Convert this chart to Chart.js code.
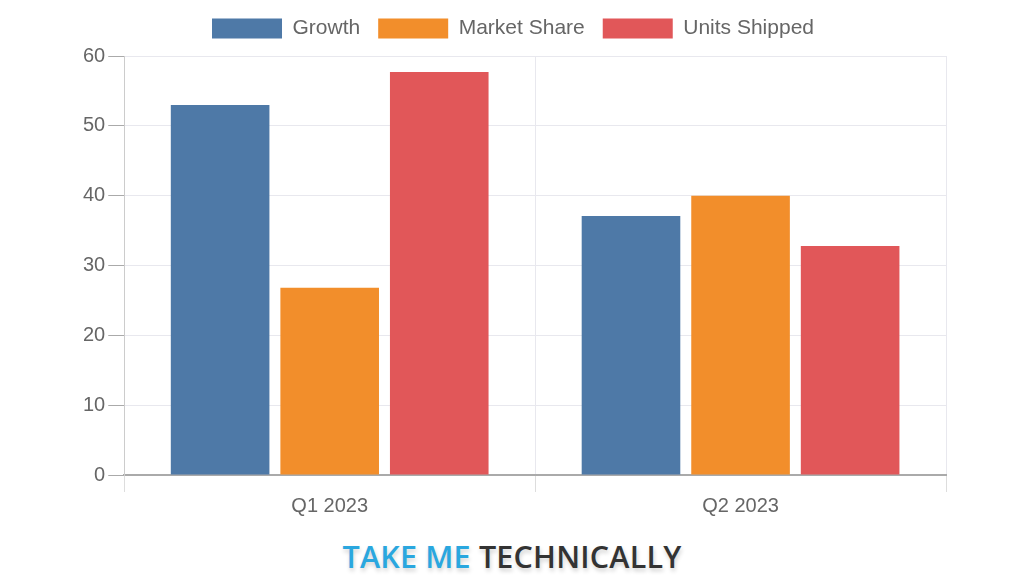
<!DOCTYPE html>
<html>
<head>
<meta charset="utf-8">
<script src="https://cdn.jsdelivr.net/npm/chart.js@4.4.1/dist/chart.umd.min.js"></script>
<style>
  html, body { margin: 0; padding: 0; background: #ffffff; }
  #page { position: relative; width: 1024px; height: 576px; overflow: hidden; }
  #chart-container { position: absolute; left: 0; top: 0; width: 1024px; height: 520px; }
  #brand {
    position: absolute; left: 0; top: 536px; width: 1024px; text-align: center;
    font-family: "Open Sans", sans-serif; font-weight: 600; font-size: 30.5px;
    line-height: 40px; letter-spacing: 0.2px; text-shadow: 1px 3px 4px rgba(0,0,0,0.18);
  }
  #brand .a { color: #2aa7df; }
  #brand .b { color: #333333; }
</style>
</head>
<body>
<div id="page">
  <div id="chart-container"><canvas id="myChart"></canvas></div>
  <div id="brand"><span class="a">TAKE ME</span> <span class="b">TECHNICALLY</span></div>
</div>
<script>
//--------------------- Data
var categories = ["Q1 2023", "Q2 2023"]
var growth = [53, 37.1]
var marketShare = [26.8, 40]
var unitsShipped = [57.7, 32.8]
var seriesNames = ["Growth", "Market Share", "Units Shipped"]
var seriesColors = ["#4e79a7", "#f28e2b", "#e15759"]

//Adds a little room under the legend
var legendMargin = {
    id: 'legendMargin',
    beforeInit: function (chart) {
        var fit = chart.legend.fit
        chart.legend.fit = function () {
            fit.bind(chart.legend)()
            this.height += 7
        }
    }
}

//--------------------- Chart
function createGraph () {
    var values = [growth, marketShare, unitsShipped]
    var datasets = []
    for (var i = 0; i < values.length; i++)
    {
        datasets.push({
            label: seriesNames[i],
            data: values[i],
            backgroundColor: seriesColors[i],
            borderColor: seriesColors[i],
            borderWidth: 0
        })
    }

    const ctx = document.getElementById('myChart');
    const myChart = new Chart(ctx, {
        type: 'bar',
        data: {
            labels: categories,
            datasets: datasets
        },
        plugins: [legendMargin],
        options: {
            animation: false,
            responsive: true,
            maintainAspectRatio: false,
            layout: {
                padding: { left: 80, right: 78, top: 0, bottom: 0 }
            },
            scales: {
                x: {
                    grid: {
                        color: "#e8e8ee",
                        tickColor: "#dddddd",
                        tickLength: 17
                    },
                    border: { color: "#aaaaaa", width: 2 },
                    ticks: {
                        color: "#666666",
                        font: { family: "Liberation Sans", size: 20 },
                        padding: 2
                    }
                },
                y: {
                    min: 0,
                    max: 60,
                    grid: {
                        color: "#e8e8ee",
                        tickColor: "#aaaaaa",
                        tickLength: 16
                    },
                    border: { color: "#cccccc", width: 1 },
                    ticks: {
                        stepSize: 10,
                        color: "#666666",
                        font: { family: "Liberation Sans", size: 20 },
                        padding: 3
                    }
                }
            },
            plugins: {
                legend: {
                    display: true,
                    labels: {
                        boxWidth: 70,
                        boxHeight: 20,
                        padding: 18,
                        color: "#666666",
                        font: { family: "Liberation Sans", size: 21 }
                    }
                },
                tooltip: { enabled: false }
            }
        }
    });
}

createGraph()
</script>
</body>
</html>
